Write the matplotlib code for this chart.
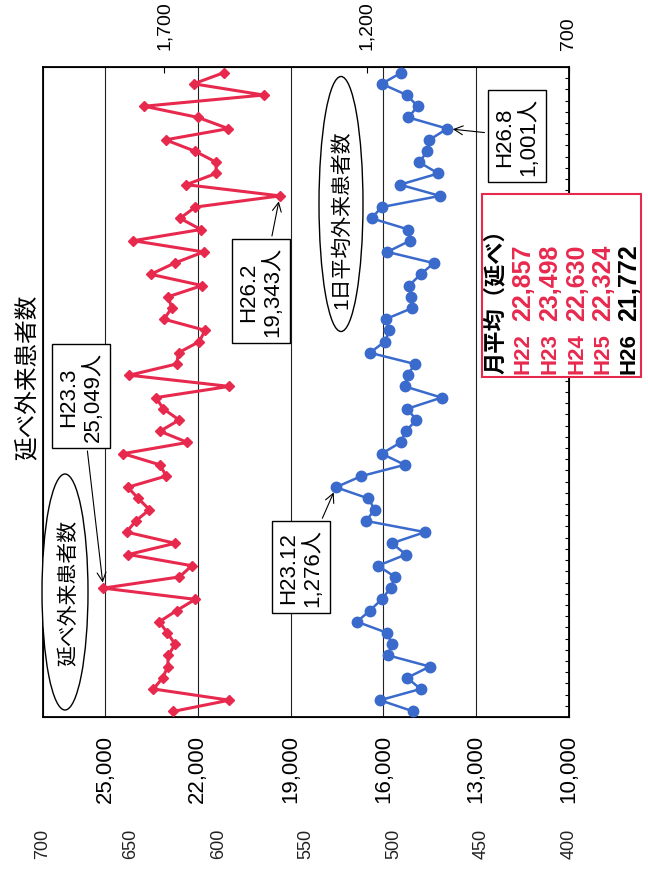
import numpy as np
import matplotlib

matplotlib.use("Agg")
import matplotlib.pyplot as plt
from matplotlib.patches import Ellipse, Rectangle

plt.rcParams["font.family"] = ["Liberation Sans", "Noto Sans CJK JP"]

# months H22.4 .. H27.1 (one point per month)
months = []
for year in range(22, 28):
    for m in [4, 5, 6, 7, 8, 9, 10, 11, 12, 1, 2, 3]:
        months.append(f"H{year if m >= 4 else year + 1}.{m}")
months = months[:58]

# monthly total outpatients (延べ外来患者数)
total_patients = [
    22790, 20980, 23430, 23130, 22970, 22950, 22730, 22980, 23240, 22680, 22080, 25049,
    22590, 22190, 24240, 22730, 24300, 24000, 23560, 23920, 24260, 23020, 23220, 24410,
    22330, 23220, 22600, 23110, 23350, 20980, 24210, 22680, 22620, 21950, 21760, 23090,
    22840, 22950, 21860, 23520, 22750, 21810, 24080, 21900, 22570, 22080, 19343, 22370,
    21410, 21400, 22100, 23040, 21010, 21990, 23730, 19870, 22130, 21150,
]

# daily average outpatients (1日平均外来患者数)
daily_patients = [
    1085, 1167, 1067, 1100, 1044, 1147, 1138, 1149, 1224, 1192, 1163, 1141,
    1130, 1172, 1103, 1138, 1056, 1202, 1180, 1196, 1276, 1213, 1106, 1163,
    1116, 1104, 1077, 1100, 1015, 1106, 1099, 1081, 1192, 1155, 1144, 1153,
    1087, 1091, 1095, 1067, 1034, 1149, 1093, 1097, 1188, 1163, 1019, 1118,
    1023, 1070, 1050, 1045, 1001, 1097, 1074, 1101, 1163, 1114,
]

total_ticks = [10000, 13000, 16000, 19000, 22000, 25000]
daily_ticks = [700, 1200, 1700]
extra_ticks = [400, 450, 500, 550, 600, 650, 700]

avg_years = ["H22", "H23", "H24", "H25", "H26"]
avg_values = [22857, 23498, 22630, 22324, 21772]

RED = "#e8294e"
BLUE = "#3a6acc"
W, H = 648, 870


def fx(px):
    return px / W


def fy(py):
    return 1 - py / H


fig = plt.figure(figsize=(W / 100, H / 100), dpi=100)
ax = fig.add_axes([fx(43), fy(718), (569 - 43) / W, (718 - 68) / H])
idx = np.arange(len(months))

ax.plot(total_patients, idx, color=RED, lw=2.2, marker="D", ms=5.5, zorder=3)
ax.set_xlim(27000, 10000)
ax.set_ylim(-0.5, len(months) - 0.5)
ax.set_xticks(total_ticks)
ax.set_xticklabels([f"{v:,}" for v in total_ticks], rotation=90, fontsize=16)
ax.tick_params(axis="x", length=0, pad=12)
ax.grid(axis="x", color="#222222", lw=0.8)
ax.yaxis.tick_right()
ax.set_yticks(np.arange(-0.5, len(months), 1))
ax.set_yticklabels([])
ax.tick_params(axis="y", direction="in", length=3, width=0.8)
for sp in ax.spines.values():
    sp.set_linewidth(1.3)

ax2 = ax.twiny()
ax2.plot(daily_patients, idx, color=BLUE, lw=1.8, marker="o", ms=7.5, zorder=3)
ax2.set_xlim(2000, 700)
ax2.set_xticks(daily_ticks)
ax2.set_xticklabels([f"{v:,}" for v in daily_ticks], rotation=90, fontsize=14)
ax2.tick_params(axis="x", direction="in", length=4, pad=13)

ax3 = ax.twiny()
ax3.set_xlim(700, 400)
ax3.xaxis.set_ticks_position("bottom")
ax3.xaxis.set_label_position("bottom")
ax3.spines["bottom"].set_position(("outward", 72))
for sp in ax3.spines.values():
    sp.set_visible(False)
ax3.set_xticks(extra_ticks)
ax3.set_xticklabels([str(v) for v in extra_ticks], rotation=90, fontsize=13, color="#222222")
ax3.tick_params(axis="x", length=0, pad=8)

# title
fig.text(fx(27), fy(377), "延べ外来患者数", rotation=90, fontsize=17,
         ha="center", va="center")

# series name ellipses
fig.add_artist(Ellipse((fx(65), fy(593)), 46 / W, 236 / H, transform=fig.transFigure,
                       fc="white", ec="black", lw=1.0, zorder=4))
fig.text(fx(68), fy(593), "延べ外来患者数", rotation=90, fontsize=15,
         ha="center", va="center", zorder=5)
fig.add_artist(Ellipse((fx(341), fy(205)), 44 / W, 255 / H, transform=fig.transFigure,
                       fc="white", ec="black", lw=1.0, zorder=4))
fig.text(fx(341), fy(220), "1日平均外来患者数", rotation=90, fontsize=15,
         ha="center", va="center", zorder=5)

# callouts
box = dict(boxstyle="square,pad=0.3", fc="white", ec="black", lw=1.0)
arrow = dict(arrowstyle="->", color="black", lw=0.8, shrinkB=4)


def callout(axis, label, value, pos):
    i = months.index(label)
    axis.annotate(f"{label}\n{value:,}人", xy=(value, i),
                  xytext=((pos[0] - 43) / 526, (718 - pos[1]) / 650),
                  textcoords="axes fraction", rotation=90, fontsize=16,
                  ha="center", va="center", multialignment="center",
                  bbox=box, arrowprops=arrow, zorder=6)


callout(ax, "H23.3", total_patients[months.index("H23.3")], (81, 397))
callout(ax, "H26.2", total_patients[months.index("H26.2")], (261, 292))
callout(ax2, "H23.12", daily_patients[months.index("H23.12")], (301, 568))
callout(ax2, "H26.8", daily_patients[months.index("H26.8")], (517, 137))

# yearly average box
fig.add_artist(Rectangle((fx(482), fy(378)), (641 - 482) / W, (378 - 195) / H,
                         transform=fig.transFigure, fc="white", ec=RED, lw=1.5, zorder=5))
row_x = [496, 523, 550, 577, 603, 629]
fig.text(fx(row_x[0]), fy(374), "月平均（延べ）", rotation=90, fontsize=16, fontweight="bold",
         ha="center", va="bottom", zorder=6)
for k, (yr, val) in enumerate(zip(avg_years, avg_values)):
    c = "black" if yr == avg_years[-1] else RED
    fig.text(fx(row_x[k + 1]), fy(374), yr, rotation=90, fontsize=16, fontweight="bold",
             color=c, ha="center", va="bottom", zorder=6)
    fig.text(fx(row_x[k + 1]), fy(321), f"{val:,}", rotation=90, fontsize=18,
             fontweight="bold", color=c, ha="center", va="bottom", zorder=6)

fig.savefig("out.png", dpi=100)
